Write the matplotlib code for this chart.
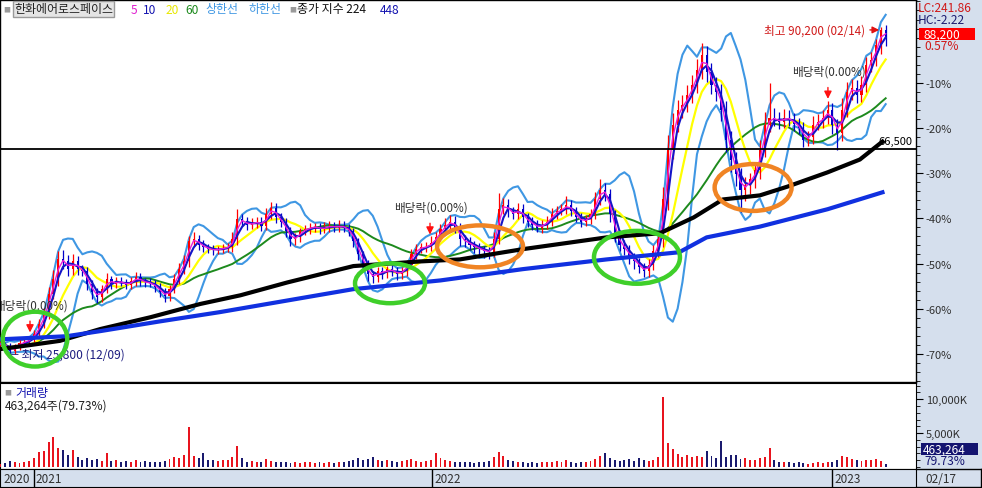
"""Hanwha Aerospace daily chart with moving averages, Bollinger bands and volume"""

import numpy as np
import pandas as pd
import matplotlib
matplotlib.use('Agg')
import matplotlib.pyplot as plt
from matplotlib.patches import Ellipse, Rectangle
from matplotlib.lines import Line2D

plt.rcParams['font.family'] = ['Noto Sans CJK KR', 'DejaVu Sans']

# closes sampled every 3 trading days, day 0 = early Dec 2020, last = 02/17/2023
closes = [
    28400, 28000, 27000, 27800, 28600, 28800, 29300, 30300, 32300, 34200,
    38100, 41000, 44900, 44500, 43000, 44500, 43000, 42600, 40100, 38500,
    37500, 39100, 41000, 40100, 40600, 40400, 39900, 40600, 41400, 40600,
    40400, 40200, 39500, 38500, 37700, 39100, 41000, 43000, 44500, 48400,
    48800, 47800, 47300, 46900, 46700, 46900, 47100, 47300, 48800, 52700,
    52300, 51700, 51900, 52300, 51500, 53700, 55000, 53100, 52300, 50400,
    48800, 49200, 50400, 50800, 51100, 51300, 50800, 51100, 51500, 51100,
    51500, 51100, 50400, 48400, 45900, 43900, 42000, 41400, 42600, 42200,
    43000, 42600, 42000, 42600, 43900, 45900, 46900, 47300, 47300, 48200,
    49200, 50800, 51700, 52300, 51100, 48800, 48400, 47800, 47300, 46900,
    46500, 46300, 48800, 54700, 55600, 54300, 53700, 54700, 53100, 52300,
    51700, 51100, 51700, 52300, 53700, 54300, 54700, 55600, 54300, 53100,
    52300, 52700, 53700, 56600, 58500, 57600, 53700, 49800, 47800, 46900,
    45300, 44500, 43400, 42600, 43900, 46500, 48800, 56600, 66300, 71200,
    74100, 75100, 77000, 79000, 81900, 84800, 81500, 79000, 77600, 74100,
    68300, 64400, 61500, 58500, 59500, 60500, 62400, 66300, 71200, 72600,
    72200, 71800, 72600, 72200, 71400, 70600, 68300, 68700, 71200, 71800,
    72600, 74100, 71200, 69600, 74100, 77600, 78400, 77000, 79000, 82900,
    83900, 86800, 89700, 88200,
]
# wick lengths above / below the candle body (won)
upper_wick = [
    500, 400, 600, 500, 700, 500, 600, 800, 900, 1200,
    1500, 1800, 1700, 1800, 1200, 1400, 1000, 900, 800, 700,
    900, 800, 1300, 700, 900, 800, 700, 900, 1100, 800,
    700, 900, 600, 700, 800, 900, 1000, 1200, 1300, 1000,
    1400, 900, 800, 700, 900, 700, 800, 900, 1500, 2000,
    1100, 900, 1000, 800, 900, 1300, 1200, 900, 800, 700,
    800, 900, 700, 800, 900, 700, 800, 1100, 900, 800,
    1000, 900, 800, 700, 600, 700, 800, 700, 900, 800,
    700, 800, 900, 800, 900, 1000, 1100, 900, 1000, 1200,
    1100, 1000, 1300, 1200, 1000, 900, 800, 900, 700, 800,
    700, 900, 1400, 3200, 1200, 1100, 900, 1300, 1000, 900,
    800, 900, 800, 1000, 1200, 1100, 1000, 1600, 900, 800,
    900, 800, 1000, 1400, 2000, 1300, 1100, 900, 800, 900,
    800, 900, 700, 800, 1000, 1200, 1500, 2500, 2800, 2200,
    2000, 1800, 2000, 1900, 2200, 2400, 1800, 1700, 1600, 1500,
    1800, 1600, 1400, 1200, 1400, 1300, 1600, 2000, 2400, 6800,
    1800, 1500, 1700, 1400, 1300, 1200, 1100, 1300, 1600, 1400,
    1500, 1800, 1300, 1200, 2400, 2000, 1800, 1500, 1800, 1600,
    1500, 1200, 500, 900,
]
lower_wick = [
    500, 600, 1200, 500, 600, 400, 500, 600, 700, 800,
    900, 1000, 1200, 1400, 1300, 1200, 1100, 1000, 1200, 1300,
    1200, 900, 800, 900, 800, 700, 800, 700, 800, 900,
    800, 700, 900, 1000, 1200, 900, 800, 900, 1000, 1100,
    900, 1000, 900, 800, 900, 800, 700, 800, 900, 1000,
    900, 1000, 800, 900, 1000, 900, 1000, 1100, 1000, 1200,
    1300, 1000, 900, 800, 900, 800, 900, 800, 900, 800,
    900, 800, 1000, 1100, 1200, 1300, 1400, 1200, 1000, 1100,
    1000, 900, 1200, 1000, 900, 800, 900, 800, 900, 800,
    900, 800, 900, 1000, 1100, 1200, 1100, 1000, 1100, 1200,
    1300, 1400, 1000, 900, 1000, 1100, 1000, 900, 1000, 1100,
    1000, 900, 1000, 900, 800, 900, 800, 900, 1000, 900,
    1000, 900, 800, 900, 1000, 1200, 1400, 1500, 1300, 1200,
    1300, 1400, 1200, 1200, 1100, 1000, 1100, 1500, 2000, 1800,
    1500, 1600, 1400, 1500, 1600, 1800, 2000, 1800, 1700, 2200,
    2500, 2400, 2300, 4400, 2200, 1800, 1600, 1800, 1500, 1400,
    1300, 1400, 1200, 1300, 1400, 1300, 1400, 1300, 1200, 1100,
    1200, 1300, 1800, 3300, 1500, 1400, 1600, 1500, 1300, 1400,
    1500, 1300, 1800, 1600,
]
# volume in thousand shares, same sampling
volumes = [
    500, 600, 900, 700, 600, 800, 900, 1300, 2200, 2400,
    3700, 4400, 2800, 2500, 1800, 2500, 1400, 1100, 1300, 1000,
    1200, 900, 2100, 900, 1000, 800, 900, 700, 1000, 800,
    900, 700, 800, 700, 900, 1200, 1500, 1300, 1800, 5900,
    1600, 1300, 2100, 1100, 1000, 900, 1000, 1100, 1400, 3100,
    1300, 800, 900, 700, 800, 1200, 900, 700, 800, 700,
    600, 700, 600, 800, 700, 600, 700, 600, 700, 600,
    700, 800, 900, 1100, 1300, 1000, 1200, 1400, 1000, 900,
    1100, 900, 800, 900, 1000, 1200, 900, 800, 900, 1100,
    2100, 1300, 1000, 900, 800, 700, 800, 700, 600, 700,
    800, 900, 1400, 2200, 1600, 1000, 900, 800, 700, 600,
    700, 600, 700, 800, 700, 900, 800, 1000, 700, 600,
    700, 800, 900, 1200, 1600, 2000, 1300, 1100, 900, 1000,
    1200, 900, 1300, 1100, 900, 1000, 1400, 10400, 3600, 2600,
    1900, 1500, 1800, 1400, 1600, 1500, 2400, 1600, 1300, 3900,
    1500, 1800, 1700, 1200, 1300, 1100, 1000, 1300, 1500, 2800,
    1000, 800, 700, 800, 600, 700, 600, 500, 600, 700,
    600, 800, 700, 1100, 1600, 1500, 1200, 1000, 900, 1100,
    1000, 1200, 900, 463,
]
step = 3

# long moving averages (224 / 448 days)
ma224_days = [0, 19, 37, 62, 93, 124, 149, 178, 219, 260, 285, 324, 376,
              409, 430, 448, 471, 488, 513, 533, 547]
ma224_vals = [27400, 28200, 29000, 31300, 33600, 36200, 37900, 40400, 43600,
              44500, 44900, 46900, 49200, 50000, 53100, 56600, 57400, 59100,
              61900, 64400, 67900]
ma448_days = [0, 41, 62, 99, 136, 219, 273, 324, 376, 421, 438, 471, 513, 547]
ma448_vals = [29300, 29900, 30900, 32800, 34600, 39100, 40800, 43000, 44900,
              46300, 49200, 51300, 54700, 58000]

last_price = 88200
year_starts = [21, 268, 516]
year_labels = ['2021', '2022', '2023']

# highlighted zones: (day, price, width in days, height in won, colour)
zones = [
    (21.6, 29340, 40, 10700, '#3fcf2a'),
    (241.7, 40245, 43.4, 7790, '#3fcf2a'),
    (297.5, 47450, 53.3, 8180, '#f08424'),
    (394.8, 45310, 53.3, 10320, '#3fcf2a'),
    (466.8, 58940, 47.7, 9150, '#f08424'),
]
dividend_days = [18.5, 266.5, 513.2]
dividend_tips = [30100, 49200, 75700]

W, H = 982, 489
XMIN, XMAX = -0.1, 567.8
PRICE_MIN, PRICE_MAX = 20970, 95540
PANEL_BG = '#d5dfed'


def fx(px):
    return px / W


def fy(py):
    return 1 - py / H


days = np.arange(len(closes)) * step
close_s = pd.Series(closes, dtype=float)
opens = close_s.shift(1).fillna(close_s.iloc[0])
up = close_s >= opens
highs = np.maximum(opens, close_s) + np.array(upper_wick)
lows = np.minimum(opens, close_s) - np.array(lower_wick)
ma5 = close_s.rolling(2, min_periods=1).mean()
ma10 = close_s.rolling(3, min_periods=1).mean()
ma20 = close_s.rolling(7, min_periods=1).mean()
ma60 = close_s.rolling(20, min_periods=1).mean()
std20 = close_s.rolling(7, min_periods=1).std(ddof=0)
bb_up = ma20 + 2 * std20
bb_dn = ma20 - 2 * std20

fig = plt.figure(figsize=(W / 100, H / 100), dpi=100, facecolor=PANEL_BG)

# ---------------- price panel ----------------
ax = fig.add_axes([0, fy(383), fx(916), (383 - 1) / H])
ax.set_facecolor('white')
ax.set_xlim(XMIN, XMAX)
ax.set_ylim(PRICE_MIN, PRICE_MAX)

ax.plot(days, bb_up, color='#3f97e3', lw=1.5, zorder=2)
ax.plot(days, bb_dn, color='#3f97e3', lw=1.5, zorder=2)
ax.plot(days, ma60, color='#1d8a1d', lw=1.4, zorder=3)
ax.plot(days, ma20, color='#ffff00', lw=1.6, zorder=3)

colors = np.where(up, '#ff0000', '#0000c8')
body = (close_s - opens).values
body = np.where(np.abs(body) < 80, 80, body)
ax.vlines(days, lows, highs, colors=colors, lw=0.9, zorder=4)
ax.bar(days, body, bottom=opens.values, width=1.3, color=colors, zorder=4)
ax.plot(days, ma10, color='#1414c8', lw=1.5, zorder=5)
ax.plot(days, ma5, color='#e81ed8', lw=1.0, zorder=5)

ax.plot(ma224_days, ma224_vals, color='black', lw=3, zorder=6)
ax.plot(ma448_days, ma448_vals, color='#1030e0', lw=3, zorder=6)

ax.axhline(66500, color='black', lw=1.3, zorder=6)
ax.text(XMAX - 2, 66500 + 500, '66,500', ha='right', va='bottom',
        fontsize=8, color='black', zorder=8)

for d, p, w, h, c in zones:
    ax.add_patch(Ellipse((d, p), w, h, fill=False, ec=c, lw=3.2, zorder=9))

for d, tip in zip(dividend_days, dividend_tips):
    ax.annotate('', xy=(d, tip), xytext=(d, tip + 3300),
                arrowprops=dict(arrowstyle='-|>', color='#ff1010', lw=1,
                                mutation_scale=11), zorder=8)
    ax.text(d + 0.5, tip + 4700, '배당락(0.00%)', ha='center', va='bottom',
            fontsize=8.4, color='#303030', zorder=8)

ax.annotate('', xy=(546.7, 89700), xytext=(537.5, 89700),
            arrowprops=dict(arrowstyle='-|>', color='#e01010', lw=1,
                            mutation_scale=10), zorder=8)
ax.text(536.2, 89700, '최고 90,200 (02/14)', ha='right', va='center',
        fontsize=8.4, color='#d01818', zorder=8)
ax.text(4.5, 26400, '← 최저 25,800 (12/09)', ha='left', va='center',
        fontsize=8.6, color='#1c1c80', zorder=8)

pct_major = [-10, -20, -30, -40, -50, -60, -70]
ax.yaxis.tick_right()
ax.set_yticks([last_price * (1 + p / 100) for p in pct_major])
ax.set_yticklabels([f'{p}%' for p in pct_major])
ax.set_yticks([last_price * (1 + q / 100) for q in range(-76, 10, 2)],
              minor=True)
ax.tick_params(axis='y', which='major', direction='out', length=5,
               labelsize=8, labelcolor='#303030', pad=2)
ax.tick_params(axis='y', which='minor', direction='out', length=3)
ax.set_xticks([])
for sp in ax.spines.values():
    sp.set_linewidth(1)

# ---------------- volume panel ----------------
axv = fig.add_axes([0, fy(470), fx(916), (470 - 384) / H])
axv.set_facecolor('white')
axv.set_xlim(XMIN, XMAX)
axv.set_ylim(-300, 12400)
vcolors = np.where(up, '#e8141e', '#1a1a6e')
axv.bar(days, volumes, width=1.2, color=vcolors, zorder=3)
axv.yaxis.tick_right()
axv.set_yticks([5000, 10000])
axv.set_yticklabels(['5,000K', '10,000K'])
axv.set_yticks(range(0, 12001, 1000), minor=True)
axv.tick_params(axis='y', which='major', direction='out', length=5,
                labelsize=8, labelcolor='#303030', pad=2)
axv.tick_params(axis='y', which='minor', direction='out', length=3)
axv.set_xticks([])

# ---------------- date strip ----------------
axd = fig.add_axes([0, fy(488), fx(916), (488 - 470) / H])
axd.set_facecolor(PANEL_BG)
axd.set_xlim(XMIN, XMAX)
axd.set_ylim(0, 1)
axd.set_xticks([])
axd.set_yticks([])
axd.text(1.8, 0.45, '2020', va='center', fontsize=8.5, color='#303030')
for d, lab in zip(year_starts, year_labels):
    axd.axvline(d, color='black', lw=1)
    axd.text(d + 1.2, 0.45, lab, va='center', fontsize=8.5, color='#303030')
fig.text(fx(925), fy(480), '02/17', va='center', fontsize=8.5, color='#303030')
# border of the date cell under the right scale
for xs, ys in [([fx(916), fx(981)], [fy(470), fy(470)]),
               ([fx(916), fx(981)], [fy(488), fy(488)]),
               ([fx(981), fx(981)], [fy(470), fy(488)])]:
    fig.add_artist(Line2D(xs, ys, color='black', lw=1,
                          transform=fig.transFigure))

# ---------------- header texts ----------------
fig.text(fx(3), fy(10), '■', va='center', fontsize=5, color='#9a9a9a')
fig.text(fx(14), fy(10), '한화에어로스페이스', va='center', fontsize=8.6,
         color='#202020',
         bbox=dict(boxstyle='square,pad=0.12', fc='#e4e4e4', ec='#9a9a9a'))
legend_items = [('5', '#e01ed0', 131), ('10', '#1414b0', 143),
                ('20', '#e8e800', 166), ('60', '#1d8a1d', 185),
                ('상한선', '#3f97e3', 205), ('하한선', '#3f97e3', 248),
                ('종가 지수 224', '#101010', 297), ('448', '#1414b0', 380)]
for lab, col, px in legend_items:
    fig.text(fx(px), fy(10), lab, va='center', fontsize=8.6, color=col)
fig.text(fx(289), fy(10), '■', va='center', fontsize=5, color='#9a9a9a')

fig.text(fx(918), fy(8), 'LC:241.86', va='center', fontsize=8.6,
         color='#d01818')
fig.text(fx(918), fy(20), 'HC:-2.22', va='center', fontsize=8.6,
         color='#1c1c70')
fig.patches.append(Rectangle((fx(919), fy(41)), fx(56), 12 / H,
                             transform=fig.transFigure, fc='#ff0000',
                             ec='none'))
fig.text(fx(923), fy(35), '88,200', va='center', fontsize=8.6, color='white')
fig.text(fx(924), fy(47), '0.57%', va='center', fontsize=8.6, color='#d01818')

fig.text(fx(4), fy(393), '■', va='center', fontsize=5, color='#9a9a9a')
fig.text(fx(15), fy(393), '거래량', va='center', fontsize=8.6, color='#1414b0')
fig.text(fx(5), fy(406), '463,264주(79.73%)', va='center', fontsize=8.6,
         color='#202020')
fig.patches.append(Rectangle((fx(921), fy(456)), fx(57), 12 / H,
                             transform=fig.transFigure, fc='#141470',
                             ec='none'))
fig.text(fx(923), fy(450), '463,264', va='center', fontsize=8.6, color='white')
fig.text(fx(924), fy(462), '79.73%', va='center', fontsize=8.6,
         color='#141470')

fig.savefig('out.png', dpi=100, facecolor=fig.get_facecolor())
